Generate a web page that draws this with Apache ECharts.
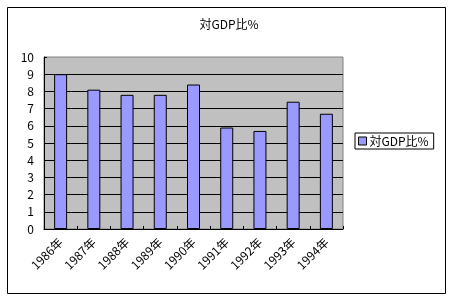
<!DOCTYPE html>
<html>
<head>
<meta charset="utf-8">
<script src="https://cdn.jsdelivr.net/npm/echarts@6/dist/echarts.min.js"></script>
<style>
html,body{margin:0;padding:0;background:#fff;}
#c{width:449px;height:298px;}
</style>
</head>
<body>
<div id="c"></div>
<script>
const titleText = '対GDP比%';
const seriesName = '対GDP比%';
const categories = ['1986年','1987年','1988年','1989年','1990年','1991年','1992年','1993年','1994年'];
const values = [9.0, 8.1, 7.8, 7.8, 8.4, 5.9, 5.7, 7.4, 6.7];
const yMin = 0, yMax = 10, yInterval = 1;

const font = '"Noto Sans CJK JP", "DejaVu Sans", sans-serif';
const chart = echarts.init(document.getElementById('c'), null, {renderer:'canvas'});
chart.setOption({
  animation: false,
  backgroundColor: '#fff',
  textStyle: {fontFamily: font},
  title: {
    text: titleText, left: 224, top: 13, textAlign: 'center',
    textStyle: {fontSize: 12, fontWeight: 'normal', color: '#000', fontFamily: font}
  },
  legend: {
    data: [seriesName], left: 355, top: 133,
    orient: 'vertical',
    borderColor: '#000', borderWidth: 1, padding: [2, 5, 2, 3],
    itemWidth: 8, itemHeight: 8, itemGap: 0,
    icon: 'rect',
    itemStyle: {borderColor: '#000', borderWidth: 1},
    textStyle: {fontSize: 12, color: '#000', fontFamily: font, padding: [0,0,0,-2]}
  },
  grid: {
    left: 44, right: 106, top: 57, bottom: 69,
    show: true, backgroundColor: '#C0C0C0', borderColor: '#808080', borderWidth: 1
  },
  xAxis: {
    type: 'category', data: categories, boundaryGap: true,
    axisLine: {lineStyle: {color: '#000', width: 1}},
    axisTick: {show: true, inside: true, length: 3, lineStyle: {color: '#000'}},
    axisLabel: {rotate: 45, fontSize: 12, color: '#000', margin: 11, interval: 0, fontFamily: font}
  },
  yAxis: {
    type: 'value', min: yMin, max: yMax, interval: yInterval,
    axisLine: {show: true, lineStyle: {color: '#000', width: 1}},
    axisTick: {show: true, inside: true, length: 3, lineStyle: {color: '#000'}},
    axisLabel: {fontSize: 12, color: '#000', margin: 10, fontFamily: font},
    splitLine: {show: true, showMinLine: false, showMaxLine: false, lineStyle: {color: '#000', width: 1}}
  },
  series: [{
    name: seriesName, type: 'bar', data: values, barWidth: 13,
    itemStyle: {color: '#9999FF', borderColor: '#000', borderWidth: 1}
  }],
  graphic: [{
    type: 'rect', left: 5, top: 5, silent: true, z: -1,
    shape: {x: 0, y: 0, width: 438, height: 286},
    style: {fill: null, stroke: '#000', lineWidth: 1}
  }]
});
</script>
</body>
</html>
